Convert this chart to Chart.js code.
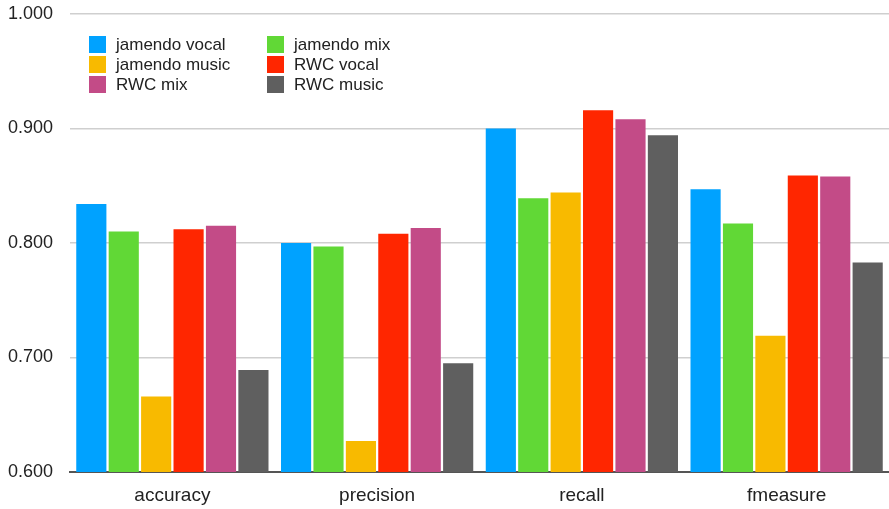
<!DOCTYPE html>
<html>
<head>
<meta charset="utf-8">
<script src="https://cdn.jsdelivr.net/npm/chart.js@4/dist/chart.umd.min.js"></script>
<style>
  html, body { margin: 0; padding: 0; background: #fff; }
  #wrap { width: 889px; height: 509px; }
</style>
</head>
<body>
<div id="wrap"><canvas id="c" width="889" height="509"></canvas></div>
<script>
// Evaluation metrics per dataset / feature set
const categories = ['accuracy', 'precision', 'recall', 'fmeasure'];
const seriesNames = ['jamendo vocal', 'jamendo mix', 'jamendo music', 'RWC vocal', 'RWC mix', 'RWC music'];
const jamendoVocal = [0.834, 0.800, 0.900, 0.847];
const jamendoMix   = [0.810, 0.797, 0.839, 0.817];
const jamendoMusic = [0.666, 0.627, 0.844, 0.719];
const rwcVocal     = [0.812, 0.808, 0.916, 0.859];
const rwcMix       = [0.815, 0.813, 0.908, 0.858];
const rwcMusic     = [0.689, 0.695, 0.894, 0.783];
const yTicks = [0.6, 0.7, 0.8, 0.9, 1.0];

const seriesValues = [jamendoVocal, jamendoMix, jamendoMusic, rwcVocal, rwcMix, rwcMusic];
const colors = ['#00a2ff', '#61d836', '#f8ba00', '#ff2600', '#c34b87', '#5f5f5f'];
const FONT = '"Liberation Sans", Arial, Helvetica, sans-serif';

// Two-column legend drawn inside the plot area
const innerLegend = {
  id: 'innerLegend',
  afterDraw(chart) {
    const ctx = chart.ctx;
    const area = chart.chartArea;
    const x0 = area.left + 19, y0 = area.top + 22;
    const colW = 178, rowH = 20, box = 17;
    ctx.save();
    ctx.font = '17px ' + FONT;
    ctx.textBaseline = 'middle';
    ctx.textAlign = 'left';
    chart.data.datasets.forEach((ds, i) => {
      const col = i % 2, row = Math.floor(i / 2);
      const x = x0 + col * colW, y = y0 + row * rowH;
      ctx.fillStyle = ds.backgroundColor;
      ctx.fillRect(x, y, box, box);
      ctx.fillStyle = '#222';
      ctx.fillText(ds.label, x + box + 10, y + box / 2 + 1);
    });
    ctx.restore();
  }
};

new Chart(document.getElementById('c'), {
  type: 'bar',
  data: {
    labels: categories,
    datasets: seriesNames.map((name, i) => ({
      label: name,
      data: seriesValues[i],
      backgroundColor: colors[i],
      borderWidth: 0,
      categoryPercentage: 0.95,
      barPercentage: 0.93
    }))
  },
  options: {
    responsive: false,
    animation: false,
    layout: { padding: { top: 14, right: 0, left: 0, bottom: 0 } },
    plugins: { legend: { display: false }, tooltip: { enabled: false } },
    scales: {
      x: {
        grid: { display: false, drawTicks: false },
        border: { display: true, color: '#555', width: 2 },
        ticks: { color: '#222', font: { family: FONT, size: 19 }, padding: 12 },
        afterFit(scale) { scale.height = 37; }
      },
      y: {
        min: 0.6,
        max: 1.0,
        afterBuildTicks(scale) { scale.ticks = yTicks.map(v => ({ value: v })); },
        grid: { color: '#cfcfcf', lineWidth: 1.5, drawTicks: false },
        border: { display: false },
        ticks: {
          color: '#222',
          font: { family: FONT, size: 18 },
          padding: 17,
          callback: v => Number(v).toFixed(3)
        },
        afterFit(scale) {
          scale.width = 70;
          scale.paddingTop = 0;
          scale.paddingBottom = 0;
        }
      }
    }
  },
  plugins: [innerLegend]
});
</script>
</body>
</html>
